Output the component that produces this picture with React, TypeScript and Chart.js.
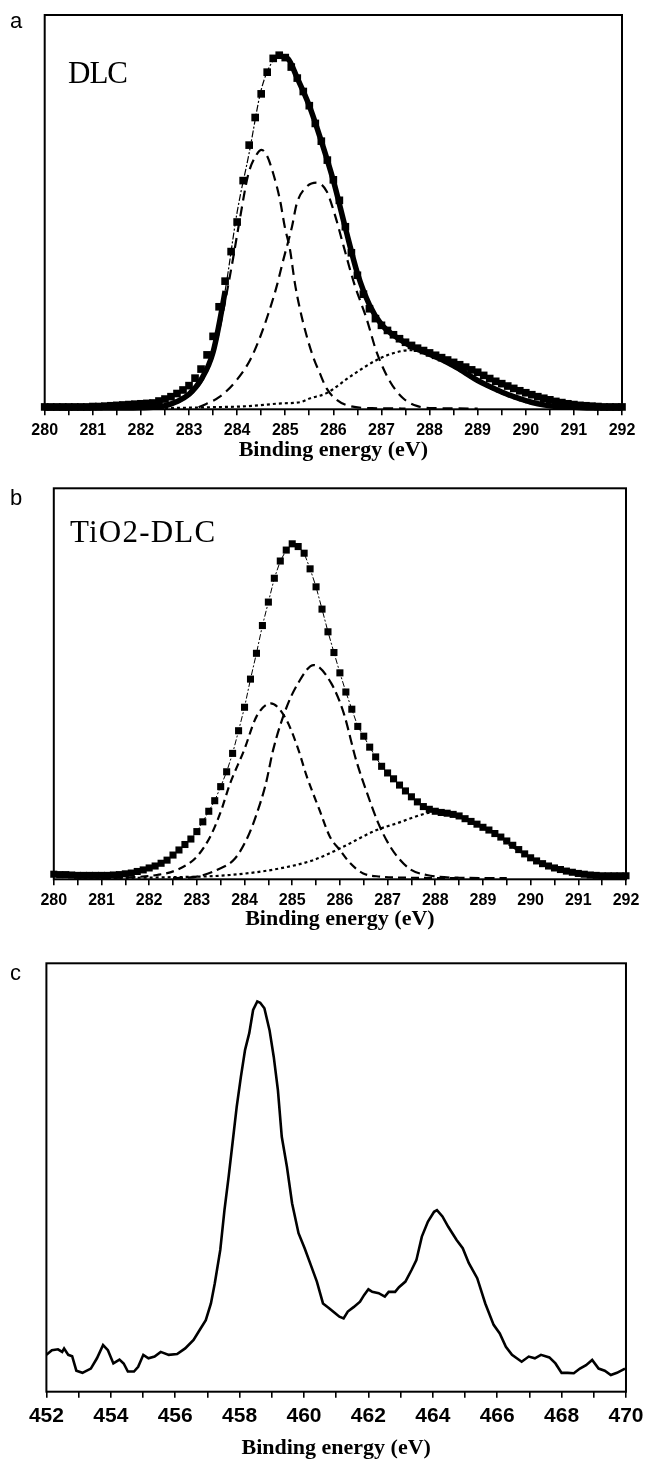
import React, { useEffect, useRef } from 'react';
import { Chart, registerables } from 'chart.js';

Chart.register(...registerables);

// ---------- shared tick labels ----------
const c1sTickLabels = ['280', '281', '282', '283', '284', '285', '286', '287', '288', '289', '290', '291', '292'];
const ti2pTickLabels = ['452', '454', '456', '458', '460', '462', '464', '466', '468', '470'];

// ---------- measured energy grid for C 1s spectra (eV) ----------
const energyGrid = [
  280, 280.125, 280.25, 280.375, 280.5, 280.625, 280.75, 280.875,
  281, 281.125, 281.25, 281.375, 281.5, 281.625, 281.75, 281.875,
  282, 282.125, 282.25, 282.375, 282.5, 282.625, 282.75, 282.875,
  283, 283.125, 283.25, 283.375, 283.5, 283.625, 283.75, 283.875,
  284, 284.125, 284.25, 284.375, 284.5, 284.625, 284.75, 284.875,
  285, 285.125, 285.25, 285.375, 285.5, 285.625, 285.75, 285.875,
  286, 286.125, 286.25, 286.375, 286.5, 286.625, 286.75, 286.875,
  287, 287.125, 287.25, 287.375, 287.5, 287.625, 287.75, 287.875,
  288, 288.125, 288.25, 288.375, 288.5, 288.625, 288.75, 288.875,
  289, 289.125, 289.25, 289.375, 289.5, 289.625, 289.75, 289.875,
  290, 290.125, 290.25, 290.375, 290.5, 290.625, 290.75, 290.875,
  291, 291.125, 291.25, 291.375, 291.5, 291.625, 291.75, 291.875,
  292,
];

// ---------- panel a: DLC ----------
const dlcMeasured = [
  0.6, 0.6, 0.6, 0.6, 0.6, 0.6, 0.6, 0.6,
  0.7, 0.7, 0.8, 0.9, 1.0, 1.1, 1.2, 1.3,
  1.4, 1.5, 1.6, 2.1, 2.6, 3.2, 4.0, 4.9,
  6.0, 7.9, 10.2, 13.8, 18.5, 26.0, 32.5, 40.0,
  47.5, 58.0, 67.0, 74.0, 80.0, 85.5, 89.0, 89.8,
  89.2, 86.8, 84.0, 80.6, 77.0, 72.5, 68.0, 63.2,
  58.2, 53.0, 46.3, 39.7, 34.0, 29.2, 25.5, 23.0,
  21.3, 20.0, 18.9, 17.9, 17.0, 16.2, 15.5, 14.9,
  14.3, 13.7, 13.1, 12.5, 11.9, 11.3, 10.7, 10.0,
  9.4, 8.6, 7.8, 7.1, 6.5, 5.9, 5.3, 4.7,
  4.2, 3.7, 3.2, 2.8, 2.4, 2.0, 1.7, 1.4,
  1.2, 1.0, 0.9, 0.8, 0.7, 0.6, 0.6, 0.6,
  0.6,
];

const dlcFitEnergy = [
  280, 281, 281.5, 282, 282.25, 282.5, 282.75, 283, 283.25, 283.5,
  283.75, 284, 284.25, 284.5, 284.75, 284.9, 285.05, 285.25, 285.5, 285.75,
  286, 286.25, 286.5, 286.75, 287, 287.25, 287.5, 287.75, 288, 288.25,
  288.5, 288.75, 289, 289.25, 289.5, 289.75, 290, 290.25, 290.5, 290.75,
  291, 291.5, 292,
];
const dlcFit = [
  0.3, 0.3, 0.3, 0.4, 0.5, 0.9, 2.0, 3.8, 7.5, 14.5,
  30, 50, 65, 81, 88.5, 89.5, 89, 84, 77, 68,
  58, 46, 34.5, 26.5, 21.5, 18.8, 16.8, 15.2, 14.0, 12.6,
  11.0, 9.2, 7.3, 5.8, 4.4, 3.2, 2.2, 1.4, 0.9, 0.6,
  0.5, 0.3, 0.3,
];

const dlcPeak1Energy = [
  282.0, 282.5, 282.75, 283.0, 283.2, 283.37, 283.54, 283.72, 283.89, 284.06,
  284.23, 284.4, 284.51, 284.62, 284.75, 284.89, 284.99, 285.1, 285.2, 285.31,
  285.45, 285.58, 285.72, 285.86, 286.07, 286.35, 286.8, 287.5,
];
const dlcPeak1 = [
  0.3, 0.8, 1.7, 3.4, 6.0, 9.5, 15.5, 25.5, 36.5, 48.5,
  59.5, 64.5, 65.8, 64.3, 59.8, 53.1, 46.3, 40.4, 32, 25.2,
  18.4, 13.3, 9.1, 5.3, 2.4, 0.8, 0.3, 0.2,
];

const dlcPeak2Energy = [
  283.2, 283.64, 283.99, 284.27, 284.48, 284.65, 284.82, 284.96, 285.14, 285.24,
  285.45, 285.65, 285.86, 286.04, 286.21, 286.43, 286.69, 286.9, 287.18, 287.45,
  287.75, 288.1, 289.0,
];
const dlcPeak2 = [
  0.5, 3.2, 7.4, 12.5, 18.4, 24.3, 31.1, 37.9, 46.3, 52.2,
  56.5, 57.5, 55.3, 49, 41.5, 32, 23, 14.5, 7, 2.8,
  0.8, 0.3, 0.2,
];

const dlcPeak3Energy = [
  282.5, 283.37, 284.23, 284.92, 285.31, 285.52, 285.86, 286.35, 286.9, 287.24,
  287.59, 288.02, 288.45, 288.96, 289.39, 289.82, 290.25, 290.68, 291.2,
];
const dlcPeak3 = [
  0.3, 0.5, 0.8, 1.5, 1.8, 2.8, 4.1, 8.3, 12.5, 14.2,
  15, 13.8, 11, 7.3, 4.6, 2.5, 1.1, 0.6, 0.4,
];

// ---------- panel b: TiO2-DLC ----------
const tiDlcMeasured = [
  1.3, 1.2, 1.2, 1.1, 1.0, 1.0, 1.0, 1.0,
  1.0, 1.0, 1.1, 1.2, 1.4, 1.6, 2.0, 2.4,
  2.9, 3.4, 4.1, 4.9, 6.2, 7.5, 8.9, 10.3,
  12.2, 14.7, 17.4, 20.1, 23.7, 27.5, 32.2, 38.0,
  44.0, 51.2, 57.8, 64.9, 70.9, 77.0, 81.4, 84.2,
  85.8, 85.1, 83.4, 79.4, 74.8, 69.1, 63.3, 58.0,
  52.8, 47.9, 43.5, 39.1, 36.6, 33.8, 31.3, 28.9,
  27.2, 25.7, 24.1, 22.6, 21.1, 19.8, 18.6, 17.9,
  17.4, 17.1, 16.9, 16.6, 16.2, 15.5, 14.8, 14.1,
  13.3, 12.6, 11.7, 10.8, 9.8, 8.7, 7.6, 6.5,
  5.5, 4.7, 4.0, 3.4, 2.9, 2.5, 2.1, 1.8,
  1.5, 1.3, 1.1, 1.0, 0.9, 0.9, 0.9, 0.9,
  0.9,
];

const tiDlcPeak1Energy = [
  281.0, 281.6, 282.16, 282.58, 283.0, 283.28, 283.49, 283.7, 283.99, 284.25,
  284.55, 284.86, 285.12, 285.3, 285.58, 285.79, 286.0, 286.21, 286.49, 286.84,
  287.5, 288.5,
];
const tiDlcPeak1 = [
  0.3, 0.5, 1.1, 2.4, 5.8, 10.9, 16.9, 24.6, 33, 41.6,
  45, 41.2, 33.5, 26.5, 17.5, 10.9, 7.5, 4.2, 1.5, 0.7,
  0.4, 0.3,
];

const tiDlcPeak2Energy = [
  282.5, 283.0, 283.42, 283.8, 284.07, 284.26, 284.45, 284.6, 284.86, 285.12,
  285.45, 285.82, 286.08, 286.34, 286.6, 286.8, 287.0, 287.19, 287.47, 287.82,
  288.5, 289.5,
];
const tiDlcPeak2 = [
  0.3, 0.7, 2.4, 5.3, 10.9, 16.9, 24.6, 33.1, 43.3, 50.1,
  54.8, 50.1, 42.5, 30.5, 21, 14.5, 9.5, 6, 2.6, 1.1,
  0.4, 0.3,
];

const tiDlcPeak3Energy = [
  280.5, 282.3, 283.7, 284.75, 285.44, 286.0, 286.77, 287.19, 287.82, 288.0,
  288.42, 289.12, 289.73, 290.16, 290.85, 291.46, 292,
];
const tiDlcPeak3 = [
  0.3, 0.5, 1.1, 2.8, 4.9, 7.9, 12.6, 14.3, 16.9, 17.2,
  16.3, 12.4, 7.4, 4.4, 1.5, 0.8, 0.7,
];

// ---------- panel c: Ti 2p ----------
const ti2pEnergy = [
  452.0, 452.17, 452.36, 452.49, 452.55, 452.68, 452.8, 452.93, 453.12, 453.38,
  453.57, 453.76, 453.91, 454.08, 454.27, 454.4, 454.53, 454.72, 454.85, 455.01,
  455.17, 455.36, 455.55, 455.8, 456.06, 456.31, 456.57, 456.76, 456.95, 457.11,
  457.23, 457.4, 457.53, 457.66, 457.78, 457.91, 458.04, 458.17, 458.3, 458.42,
  458.55, 458.64, 458.77, 458.93, 459.06, 459.19, 459.31, 459.47, 459.63, 459.83,
  460.02, 460.21, 460.4, 460.59, 460.78, 460.97, 461.1, 461.23, 461.36, 461.55,
  461.74, 461.87, 462.0, 462.12, 462.32, 462.51, 462.63, 462.83, 462.95, 463.15,
  463.34, 463.49, 463.66, 463.85, 464.04, 464.13, 464.3, 464.48, 464.74, 464.93,
  465.12, 465.38, 465.63, 465.89, 466.08, 466.27, 466.46, 466.76, 466.98, 467.17,
  467.36, 467.62, 467.81, 468.0, 468.19, 468.38, 468.57, 468.76, 468.95, 469.15,
  469.34, 469.53, 469.72, 469.97,
];
const ti2pIntensity = [
  8.6, 9.7, 9.9, 9.3, 10.1, 8.6, 8.3, 4.9, 4.4, 5.4,
  7.8, 10.9, 9.7, 6.6, 7.5, 6.6, 4.7, 4.7, 5.8, 8.6,
  7.8, 8.2, 9.3, 8.6, 8.8, 10.1, 12.1, 14.4, 16.7, 20.6,
  25.3, 33.1, 42.4, 50.2, 58, 66.5, 73.5, 79.8, 83.7, 89.1,
  91.1, 90.8, 89.5, 84.4, 78.2, 70.4, 59.5, 52.5, 44, 37,
  33.5, 29.6, 25.7, 20.6, 19.5, 18.3, 17.5, 17.1, 18.7, 19.8,
  21, 22.6, 23.9, 23.3, 23, 22.2, 23.3, 23.3, 24.4, 25.7,
  28.4, 30.7, 36.2, 39.7, 42, 42.4, 40.9, 38.5, 35.4, 33.5,
  30, 26.5, 20.6, 15.6, 13.6, 10.5, 8.6, 7, 8.2, 7.8,
  8.6, 8, 6.6, 4.4, 4.4, 4.3, 5.4, 6.2, 7.4, 5.4,
  4.9, 3.9, 4.4, 5.4,
];

// ---------- helpers ----------
const pts = (xs: number[], ys: number[]) => xs.map((x, i) => ({ x, y: ys[i] }));

type PanelSpec = {
  canvasTop: number;
  canvasH: number;
  areaTop: number;
  areaBottom: number;
  areaLeft: number;
  areaRight: number;
  xMin: number;
  xMax: number;
  step: number;
  tickLabels: string[];
  tickFont: number;
  tickPad: number;
  titleCenter: number;
  letter: string;
  letterBaseline: number;
  sample?: string;
  sampleX?: number;
  sampleBaseline?: number;
  sampleSpacing?: number;
  datasets: any[];
};

const W = 649;

function buildConfig(spec: PanelSpec): any {
  const scaleH = spec.canvasH - spec.areaBottom;
  const titleSize = 22;
  const titlePadBottom = spec.canvasH - spec.titleCenter - (titleSize * 1.2) / 2;
  const decorPlugin = {
    id: 'decor',
    afterDatasetsDraw(chart: any) {
      const { ctx, chartArea } = chart;
      ctx.save();
      ctx.strokeStyle = '#000';
      ctx.lineWidth = 2;
      ctx.strokeRect(chartArea.left, chartArea.top, chartArea.right - chartArea.left, chartArea.bottom - chartArea.top);
      ctx.restore();
    },
    afterDraw(chart: any) {
      const { ctx } = chart;
      ctx.save();
      ctx.fillStyle = '#000';
      ctx.textBaseline = 'alphabetic';
      ctx.textAlign = 'left';
      ctx.font = '22px "Liberation Sans", Arial, sans-serif';
      ctx.fillText(spec.letter, 10, spec.letterBaseline);
      if (spec.sample) {
        ctx.font = '31px "Liberation Serif", "Times New Roman", serif';
        try { (ctx as any).letterSpacing = `${spec.sampleSpacing || 0}px`; } catch (e) { /* ignore */ }
        ctx.fillText(spec.sample, spec.sampleX || 0, spec.sampleBaseline || 0);
      }
      ctx.restore();
    },
  };
  return {
    type: 'line',
    data: { datasets: spec.datasets },
    options: {
      animation: false,
      responsive: false,
      maintainAspectRatio: false,
      events: [],
      layout: {
        padding: { left: spec.areaLeft, right: W - spec.areaRight, top: spec.areaTop, bottom: 0 },
      },
      plugins: { legend: { display: false }, tooltip: { enabled: false } },
      scales: {
        x: {
          type: 'linear',
          min: spec.xMin,
          max: spec.xMax,
          afterFit: (s: any) => { s.height = scaleH; },
          border: { display: false },
          grid: {
            drawOnChartArea: false,
            drawTicks: true,
            tickLength: 6,
            color: '#000',
            lineWidth: 1.6,
          },
          ticks: {
            stepSize: spec.step,
            maxTicksLimit: 200,
            autoSkip: false,
            maxRotation: 0,
            minRotation: 0,
            padding: spec.tickPad,
            color: '#000',
            font: { family: '"Liberation Sans", Arial, sans-serif', weight: 'bold', size: spec.tickFont },
            callback: (v: number) => {
              const label = String(Math.round(v * 1000) / 1000);
              return spec.tickLabels.includes(label) ? label : '';
            },
          },
          title: {
            display: true,
            text: 'Binding energy (eV)',
            color: '#000',
            font: { family: '"Liberation Serif", "Times New Roman", serif', weight: 'bold', size: titleSize },
            padding: { top: 0, bottom: titlePadBottom },
          },
        },
        y: { display: false, min: 0, max: 100 },
      },
    },
    plugins: [decorPlugin],
  };
}

function Panel({ spec }: { spec: PanelSpec }) {
  const ref = useRef<HTMLCanvasElement>(null);
  useEffect(() => {
    if (!ref.current) return;
    const chart = new Chart(ref.current, buildConfig(spec));
    return () => chart.destroy();
  }, [spec]);
  return (
    <canvas
      ref={ref}
      width={W}
      height={spec.canvasH}
      style={{ position: 'absolute', left: 0, top: spec.canvasTop, width: W, height: spec.canvasH }}
    />
  );
}

const squareStyle = (r: number) => ({
  showLine: false,
  pointStyle: 'rect',
  pointRadius: r,
  pointBackgroundColor: '#000',
  pointBorderWidth: 0,
  borderColor: '#000',
  clip: false,
});

const dashedLine = (dash: number[], width: number) => ({
  borderColor: '#000',
  borderWidth: width,
  borderDash: dash,
  pointRadius: 0,
  cubicInterpolationMode: 'monotone',
  fill: false,
});

const thickFit = (x: number) => x < 283.6 || x >= 285.0;

const panelA: PanelSpec = {
  canvasTop: 0,
  canvasH: 470,
  areaTop: 15,
  areaBottom: 409.3,
  areaLeft: 44.7,
  areaRight: 622,
  xMin: 280,
  xMax: 292,
  step: 0.5,
  tickLabels: c1sTickLabels,
  tickFont: 16,
  tickPad: 6,
  titleCenter: 450,
  letter: 'a',
  letterBaseline: 28,
  sample: 'DLC',
  sampleX: 68,
  sampleBaseline: 83,
  sampleSpacing: -1,
  datasets: [
    { data: pts(energyGrid, dlcMeasured), ...squareStyle(5.4) },
    {
      data: pts(dlcFitEnergy, dlcFit),
      borderColor: '#000',
      borderWidth: 1.2,
      pointRadius: 0,
      cubicInterpolationMode: 'monotone',
      clip: false,
      segment: {
        borderWidth: (c: any) => (thickFit(c.p0.parsed.x) ? 5.5 : 1.2),
        borderDash: (c: any) => (thickFit(c.p0.parsed.x) ? [] : [7, 2, 2, 2]),
      },
    },
    { data: pts(dlcPeak1Energy, dlcPeak1), ...dashedLine([10, 6], 2.2) },
    { data: pts(dlcPeak2Energy, dlcPeak2), ...dashedLine([10, 6], 2.2) },
    { data: pts(dlcPeak3Energy, dlcPeak3), ...dashedLine([3, 3], 2.2) },
  ],
};

const panelB: PanelSpec = {
  canvasTop: 470,
  canvasH: 478,
  areaTop: 18.3,
  areaBottom: 409.3,
  areaLeft: 53.8,
  areaRight: 626,
  xMin: 280,
  xMax: 292,
  step: 0.5,
  tickLabels: c1sTickLabels,
  tickFont: 16,
  tickPad: 6,
  titleCenter: 449,
  letter: 'b',
  letterBaseline: 35,
  sample: 'TiO2-DLC',
  sampleX: 70,
  sampleBaseline: 72,
  sampleSpacing: 1.2,
  datasets: [
    {
      data: pts(energyGrid, tiDlcMeasured),
      ...squareStyle(5.0),
      showLine: true,
      borderWidth: 1,
      borderDash: [6, 2, 2, 2],
    },
    { data: pts(tiDlcPeak1Energy, tiDlcPeak1), ...dashedLine([8, 5], 2.2) },
    { data: pts(tiDlcPeak2Energy, tiDlcPeak2), ...dashedLine([10, 5], 2.2) },
    { data: pts(tiDlcPeak3Energy, tiDlcPeak3), ...dashedLine([3, 3], 2.2) },
  ],
};

const panelC: PanelSpec = {
  canvasTop: 950,
  canvasH: 530,
  areaTop: 13.3,
  areaBottom: 441.7,
  areaLeft: 46.4,
  areaRight: 630,
  xMin: 452,
  xMax: 470,
  step: 1,
  tickLabels: ti2pTickLabels,
  tickFont: 21,
  tickPad: 5.5,
  titleCenter: 498,
  letter: 'c',
  letterBaseline: 30,
  datasets: [
    {
      data: pts(ti2pEnergy, ti2pIntensity),
      borderColor: '#000',
      borderWidth: 2.6,
      pointRadius: 0,
      tension: 0,
      fill: false,
    },
  ],
};

export default function App() {
  return (
    <div
      style={{
        position: 'absolute',
        left: 0,
        top: 0,
        width: W,
        height: 1459,
        overflow: 'hidden',
        background: '#fff',
      }}
    >
      <Panel spec={panelA} />
      <Panel spec={panelB} />
      <Panel spec={panelC} />
    </div>
  );
}
